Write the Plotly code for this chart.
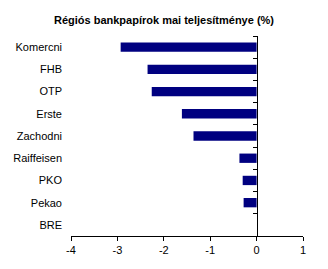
import plotly.graph_objects as go

title = "Régiós bankpapírok mai teljesítménye (%)"
banks = ["Komercni", "FHB", "OTP", "Erste", "Zachodni", "Raiffeisen", "PKO", "Pekao", "BRE"]
values = [-2.93, -2.35, -2.26, -1.61, -1.36, -0.37, -0.30, -0.28, 0.0]
x_ticks = [-4, -3, -2, -1, 0, 1]

fig = go.Figure()
fig.add_trace(go.Bar(
    x=values, y=banks, orientation="h",
    marker=dict(color="#000080", line=dict(width=0)),
    hoverinfo="x+y", showlegend=False,
))
# invisible trace for the category axis drawn at x = 0
fig.add_trace(go.Scatter(
    x=[None] * len(banks), y=banks, yaxis="y2", mode="markers",
    showlegend=False, hoverinfo="skip",
))

xmin, xmax = -4, 1
cat_range = [len(banks) - 0.5, -0.5]
font = dict(family="Arial, Liberation Sans, sans-serif", size=11, color="black")

fig.update_layout(
    width=328, height=269,
    margin=dict(l=71, r=25, t=36, b=33),
    paper_bgcolor="white", plot_bgcolor="white",
    bargap=0.58,
    font=font,
    title=dict(text="<b>" + title + "</b>", x=0.5, xanchor="center",
               y=1 - 20 / 269, yanchor="middle",
               font=dict(family="Arial, Liberation Sans, sans-serif", size=11, color="black")),
    xaxis=dict(
        range=[xmin, xmax], tickvals=x_ticks, ticktext=[str(v) for v in x_ticks],
        showgrid=False, zeroline=False, showline=True, linecolor="black", linewidth=1,
        ticks="outside", ticklen=4, tickcolor="black", tickwidth=1,
        fixedrange=True, tickfont=font,
    ),
    yaxis=dict(
        type="category", categoryorder="array", categoryarray=banks,
        range=cat_range, showgrid=False, zeroline=False, showline=False,
        ticks="", ticklabelstandoff=8, tickfont=font, fixedrange=True,
    ),
    yaxis2=dict(
        type="category", categoryorder="array", categoryarray=banks,
        range=cat_range, overlaying="y", anchor="free",
        position=(0 - xmin) / (xmax - xmin), side="left",
        showgrid=False, zeroline=False, showline=True, linecolor="black", linewidth=1,
        ticks="outside", tickson="boundaries", ticklen=4, tickcolor="black",
        showticklabels=False, fixedrange=True,
    ),
)

fig.write_html("out.html")
